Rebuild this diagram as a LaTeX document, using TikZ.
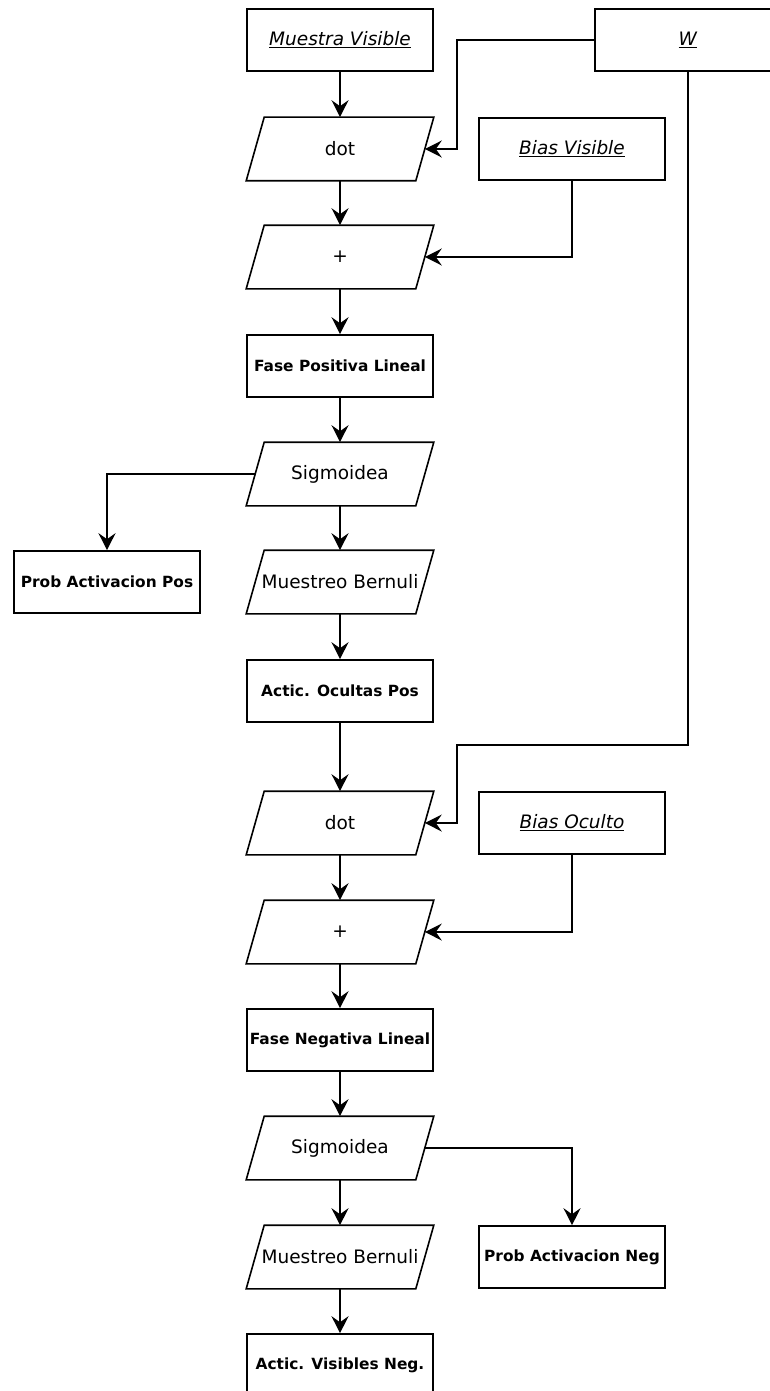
\documentclass[tikz,border=0pt]{standalone}
\usepackage{fontspec}
\setmainfont{DejaVu Sans}
\usetikzlibrary{arrows.meta}

\tikzset{
  box/.style={draw, line width=1.6pt, rectangle, minimum width=186pt, minimum height=62pt,
    inner sep=0pt, font=\fontsize{18.5}{22}\selectfont},
  boldbox/.style={box, font=\fontsize{15.4}{18}\selectfont\bfseries},
  parabody/.style={box, draw=none},
  paraline/.style={line width=1.6pt, line join=miter},
  arr/.style={line width=1.6pt, -{Stealth[length=17pt,width=17pt,inset=6pt]}},
}
\newcommand{\ulit}[1]{\underline{\textit{#1}}}
% parallelogram step: name, position, text; also defines name-l / name-r
% at the midpoints of the slanted sides
\newcommand{\paranode}[3]{%
  \node[parabody] (#1) at (#2) {#3};
  \draw[paraline] ([xshift=18pt]#1.north west) -- (#1.north east)
    -- ([xshift=-18pt]#1.south east) -- (#1.south west) -- cycle;
  \coordinate (#1-r) at ([xshift=-9pt]#1.east);
  \coordinate (#1-l) at ([xshift=9pt]#1.west);
}

\begin{document}
\begin{tikzpicture}[x=1pt,y=-1pt]
\useasboundingbox (0,0) rectangle (770,1391);

% positive phase column
\node[box]     (mv)   at (340,40)   {\ulit{Muestra Visible}};
\paranode{dot1}{340,149}{dot}
\paranode{pl1}{340,257}{+}
\node[boldbox] (fpl)  at (340,366)  {Fase Positiva Lineal};
\paranode{sig1}{340,474}{Sigmoidea}
\paranode{mb1}{340,582}{Muestreo Bernuli}
\node[boldbox] (aop)  at (340,691)  {Actic. Ocultas Pos};

% negative phase column
\paranode{dot2}{340,823}{dot}
\paranode{pl2}{340,932}{+}
\node[boldbox] (fnl)  at (340,1040) {Fase Negativa Lineal};
\paranode{sig2}{340,1148}{Sigmoidea}
\paranode{mb2}{340,1257}{Muestreo Bernuli}
\node[boldbox] (avn)  at (340,1365) {Actic. Visibles Neg.};

% parameters and side outputs
\node[box]     (W)    at (688,40)   {\ulit{W}};
\node[box]     (bv)   at (572,149)  {\ulit{Bias Visible}};
\node[boldbox] (pap)  at (107,582)  {Prob Activacion Pos};
\node[box]     (bo)   at (572,823)  {\ulit{Bias Oculto}};
\node[boldbox] (pan)  at (572,1257) {Prob Activacion Neg};

\coordinate (wtop) at (457,149);
\coordinate (wbend) at (457,745);

% main flow
\draw[arr] (mv) -- (dot1);
\draw[arr] (dot1) -- (pl1);
\draw[arr] (pl1) -- (fpl);
\draw[arr] (fpl) -- (sig1);
\draw[arr] (sig1) -- (mb1);
\draw[arr] (mb1) -- (aop);
\draw[arr] (aop) -- (dot2);
\draw[arr] (dot2) -- (pl2);
\draw[arr] (pl2) -- (fnl);
\draw[arr] (fnl) -- (sig2);
\draw[arr] (sig2) -- (mb2);
\draw[arr] (mb2) -- (avn);

% weights and biases
\draw[arr] (W.west) -| (wtop) -- (dot1-r);
\draw[arr] (W.south) |- (wbend) |- (dot2-r);
\draw[arr] (bv.south) |- (pl1-r);
\draw[arr] (bo.south) |- (pl2-r);

% probabilities
\draw[arr] (sig1-l) -| (pap.north);
\draw[arr] (sig2-r) -| (pan.north);
\end{tikzpicture}
\end{document}
